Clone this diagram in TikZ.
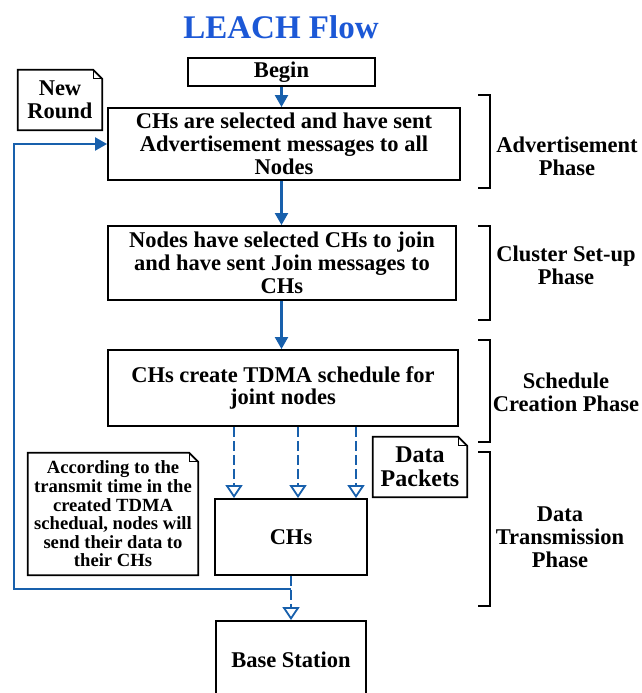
\documentclass[tikz,border=0pt]{standalone}
\usepackage{fontspec}
\setmainfont{Liberation Serif}
\usetikzlibrary{arrows.meta}
\definecolor{titleblue}{RGB}{28,88,214}
\definecolor{flowblue}{RGB}{24,96,172}

\begin{document}
\begin{tikzpicture}[x=1pt,y=-1pt,
  txt/.style={font=\fontsize{22.5}{22.8}\selectfont\bfseries, align=center, inner sep=0pt},
  box/.style={txt, draw=black, line width=1.9pt},
  noteline/.style={draw=black, line width=1.7pt, line join=miter},
  bracket/.style={draw=black, line width=2.6pt},
  flow/.style={draw=flowblue, line width=2.2pt, -{Triangle[length=12pt,width=13pt]}},
  dasharrow/.style={draw=flowblue, line width=1.8pt, dash pattern=on 10pt off 4pt,
    -{Triangle[open,length=13pt,width=17pt,line width=1.8pt]}},
  loopline/.style={draw=flowblue, line width=2.2pt, -{Triangle[length=12pt,width=13pt]}}
]
\useasboundingbox (0,0) rectangle (641,693);

% heading
\node[font=\fontsize{33}{36}\selectfont\bfseries, text=titleblue] (title) at (281,27) {LEACH Flow};

% main flow boxes
\node[box, minimum width=187pt, minimum height=28pt] (begin) at (281.5,72) {Begin};
\node[box, minimum width=352pt, minimum height=72pt] (adv) at (284,144)
  {CHs are selected and have sent\\Advertisement messages to all\\Nodes};
\node[box, minimum width=348pt, minimum height=74pt] (join) at (282,263)
  {Nodes have selected CHs to join\\and have sent Join messages to\\CHs};
\node[box, minimum width=350pt, minimum height=76pt] (tdma) at (283,388)
  {CHs create TDMA schedule for\\joint nodes};
\node[box, minimum width=152pt, minimum height=76pt] (ch) at (291,537) {CHs};
\node[box, minimum width=150pt, minimum height=78pt] (base) at (291,660) {Base Station};

% notes with a folded corner
\node[txt, minimum width=84pt, minimum height=60pt] (newround) at (60,100) {New\\Round};
\node[txt, font=\fontsize{24}{24}\selectfont\bfseries, minimum width=94pt, minimum height=60pt]
  (packets) at (420,467) {Data\\Packets};
\node[txt, font=\fontsize{18.6}{18.6}\selectfont\bfseries, minimum width=170pt, minimum height=122pt]
  (slotnote) at (113,514)
  {According to the\\transmit time in the\\created TDMA\\schedual, nodes will\\send their data to\\their CHs};
\foreach \n in {newround,packets,slotnote}{
  \draw[noteline] (\n.north west) -- ([xshift=-9pt]\n.north east) -- ([yshift=-9pt]\n.north east)
    -- (\n.south east) -- (\n.south west) -- cycle;
  \draw[noteline, line width=1.2pt] ([xshift=-9pt]\n.north east) -- ([xshift=-9pt,yshift=-9pt]\n.north east)
    -- ([yshift=-9pt]\n.north east);
}

% phase labels and their brackets
\node[txt] (p1) at (567,156) {Advertisement\\Phase};
\node[txt] (p2) at (566,265) {Cluster Set-up\\Phase};
\node[txt] (p3) at (566,392) {Schedule\\Creation Phase};
\node[txt] (p4) at (560,537) {Data\\Transmission\\Phase};
\draw[bracket] (478,95) -- (490,95) -- (490,188) -- (478,188);
\draw[bracket] (478,226) -- (490,226) -- (490,320) -- (478,320);
\draw[bracket] (478,340) -- (490,340) -- (490,442) -- (478,442);
\draw[bracket] (478,452) -- (490,452) -- (490,606) -- (478,606);

% connectors
\draw[flow] (begin.south) -- (begin.south |- adv.north);
\draw[flow] (adv.south -| begin.south) -- (begin.south |- join.north);
\draw[flow] (join.south -| begin.south) -- (begin.south |- tdma.north);

\coordinate (d1) at (234,0);
\coordinate (d2) at (298,0);
\coordinate (d3) at (356,0);
\foreach \d in {d1,d2,d3}
  \draw[dasharrow] (\d |- tdma.south) -- (\d |- ch.north);

\draw[dasharrow] (ch.south) -- (base.north);
\coordinate (turn) at (14,589);
\draw[loopline] (ch.south |- turn) -- (turn) |- (adv.west);
\end{tikzpicture}
\end{document}
